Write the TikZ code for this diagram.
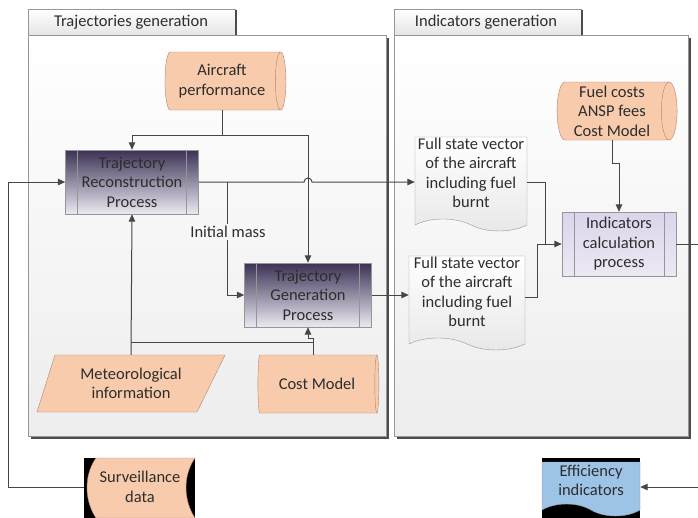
\documentclass[tikz,border=0pt]{standalone}
\usepackage{fontspec}
\setmainfont{Carlito}
\usetikzlibrary{shapes.geometric,shapes.symbols,arrows.meta,positioning,calc}

\definecolor{peach}{RGB}{248,203,173}
\definecolor{peachline}{RGB}{175,135,110}
\definecolor{wire}{RGB}{70,70,70}
\definecolor{frame}{RGB}{150,150,150}
\definecolor{ink}{RGB}{45,45,45}
\definecolor{plum}{RGB}{60,50,85}
\definecolor{lilac}{RGB}{236,233,242}
\definecolor{lavender}{RGB}{220,212,236}
\definecolor{skyblue}{RGB}{157,195,230}

\begin{document}
\begin{tikzpicture}[x=1pt,y=-1pt,
    font=\fontsize{16.5}{19.5}\selectfont, text=ink,
    every node/.style={align=center},
    wire/.style={draw=wire, line width=1pt},
    arr/.style={wire, -{Triangle[length=7.5pt,width=6.5pt]}},
    store/.style={cylinder, shape border rotate=0, aspect=0.3, draw=peachline,
        fill=peach, minimum height=121pt, minimum width=58pt, inner sep=1pt},
    proc/.style={rectangle, draw=frame, minimum width=133pt, minimum height=64pt,
        path picture={
            \draw[frame] ([xshift=12pt]path picture bounding box.north west)
                -- ([xshift=12pt]path picture bounding box.south west);
            \draw[frame] ([xshift=-12pt]path picture bounding box.north east)
                -- ([xshift=-12pt]path picture bounding box.south east);}},
    darkproc/.style={proc, top color=plum, bottom color=lilac},
    lightproc/.style={proc, top color=lavender, bottom color=lilac},
    doc/.style={tape, draw=frame, tape bend top=none, tape bend bottom=out and in,
        tape bend height=12pt, minimum width=112pt, minimum height=93pt,
        top color=white, bottom color=black!9, inner sep=1pt, text depth=10pt},
    tab/.style={draw=frame, top color=white, bottom color=black!10}]
\useasboundingbox (0,0) rectangle (698,517);

% panels
\fill[black!70] (31,38) rectangle (389,439);
\draw[frame, top color=white, bottom color=black!7] (28,35) rectangle (386,436);
\draw[tab] (28,9) rectangle (235,35);
\draw[black!70, line width=2pt] (236,10) -- (236,35);
\node at (131,22) {Trajectories generation};

\fill[black!70] (397,38) rectangle (691,439);
\draw[frame, top color=white, bottom color=black!7] (394,35) rectangle (688,436);
\draw[tab] (394,9) rectangle (581,35);
\draw[black!70, line width=2pt] (582,10) -- (582,35);
\node at (486,22) {Indicators generation};

% trajectories side
\node[store] (perf) at (222,81) {Aircraft\\performance};
\node[darkproc] (recon) at (132,182) {Trajectory\\Reconstruction\\Process};
\node[darkproc, minimum width=127pt] (gen) at (308,295) {Trajectory\\Generation\\Process};
\filldraw[draw=peachline, fill=peach] (55,355) -- (225,355) -- (197,412) -- (37,412) -- cycle;
\node[minimum width=188pt, minimum height=57pt] (meteo) at (131,383.5) {Meteorological\\information};
\node[store] (cost) at (317,384) {Cost Model};

% surveillance
\fill[black] (84,458) rectangle (195,520);
\filldraw[draw=peachline, fill=peach] (96,458) -- (195,458)
    .. controls (183,475) and (183,500) .. (195,518) -- (96,518)
    .. controls (84,500) and (84,475) .. (96,458) -- cycle;
\node[minimum width=111pt, minimum height=58pt] (surv) at (140,487) {Surveillance\\data};

% indicators side
\node[doc] (vec1) at (471,178) {Full state vector\\of the aircraft\\including fuel\\burnt};
\node[doc, minimum width=116pt] (vec2) at (467,297) {Full state vector\\of the aircraft\\including fuel\\burnt};
\node[store, minimum height=120pt] (fees) at (612,111) {Fuel costs\\ANSP fees\\Cost Model};
\node[lightproc, minimum width=114pt] (calc) at (619,244) {Indicators\\calculation\\process};

% efficiency
\fill[black] (542,458) rectangle (640,520);
\node[tape, draw=frame, fill=skyblue, tape bend top=none, tape bend bottom=out and in,
    tape bend height=12pt, minimum width=98pt, minimum height=54pt, inner sep=1pt,
    text depth=5pt] (eff) at (591,483) {Efficiency\\indicators};

% connectors
\coordinate (split) at (218,135);
\draw[wire] (perf.south) -- (perf.south |- split);
\draw[arr] (perf.south |- split) -| (recon.north);
\draw[arr] (perf.south |- split) -| (gen.north);
\draw[arr] (recon.east) -- (304,182) arc (180:360:4) -- (vec1.west |- recon.east);
\draw[arr] (recon.east -| 227,0) |- (gen.west);
\node[fill=black!3, inner sep=2pt] (mass) at (228,232) {Initial mass};
\draw[arr] (surv.west) -- ++(-76,0) |- (recon.west);
\draw[arr] (meteo.north) -- (recon.south);
\draw[wire] (meteo.north |- 0,342) -- (313,342);
\coordinate (jog) at (308,338);
\draw[arr] (313,355) |- (jog) -- (gen.south);
\draw[arr] (gen.east) -- (gen.east -| vec2.west);
\draw[arr] (vec1.east |- recon.east) -- ++(18,0) |- (calc.west);
\draw[wire] (vec2.east) -- ++(12,0) |- ($(calc.west)+(-17,0)$);
\draw[arr] (fees.south) -- ++(0,23) -| (calc.north);
\draw[arr] (calc.east) -- (701,244) |- (eff.east |- 0,487);
\end{tikzpicture}
\end{document}
